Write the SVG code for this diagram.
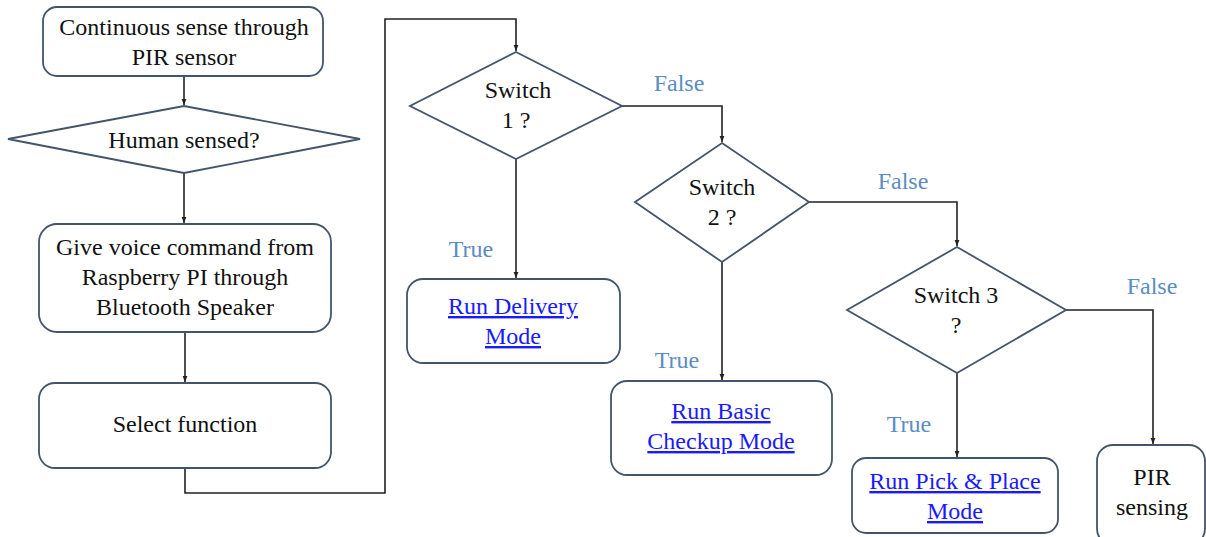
<svg xmlns="http://www.w3.org/2000/svg" width="1206" height="537" viewBox="0 0 1206 537" font-family="Liberation Serif, DejaVu Serif, serif">
  <style>
    .box { fill: #ffffff; stroke: #44546a; stroke-width: 1.8; }
    .dia { fill: #ffffff; stroke: #44546a; stroke-width: 1.8; }
    text { font-family: "Liberation Serif", "DejaVu Serif", serif; }
    .t { font-size: 24px; fill: #111111; text-anchor: middle; }
    .link { fill: #1a1aff; text-decoration: underline; }
    .lbl { font-size: 24px; fill: #5b8cc4; text-anchor: middle; }
    .edge { fill: none; stroke: #222222; stroke-width: 1.6; marker-end: url(#arrow); }
  </style>
  <defs>
    <marker id="arrow" viewBox="0 0 10 10" refX="10" refY="5" markerWidth="6" markerHeight="6" orient="auto" markerUnits="userSpaceOnUse">
      <path d="M0,1 L10,5 L0,9 z" fill="#222222"/>
    </marker>
  </defs>
  <rect width="1206" height="537" fill="#ffffff"/>

  <!-- connectors with their branch labels -->
  <g id="connectors">
    <path class="edge" d="M184,76 L184,105"/>
    <path class="edge" d="M184,173 L184,223"/>
    <path class="edge" d="M185,332 L185,382"/>
    <path class="edge" d="M185,468 L185,493 L385,493 L385,19 L516,19 L516,51"/>
    <path class="edge" d="M622,106 L722,106 L722,142"/>
    <path class="edge" d="M516,159 L516,278"/>
    <path class="edge" d="M809,202 L957,202 L957,246"/>
    <path class="edge" d="M722,262 L722,380"/>
    <path class="edge" d="M1066,310 L1153,310 L1153,444"/>
    <path class="edge" d="M957,373 L957,457"/>
    <text class="lbl" x="679" y="91" font-family="Liberation Serif">False</text>
    <text class="lbl" x="471" y="257" font-family="Liberation Serif">True</text>
    <text class="lbl" x="903" y="189" font-family="Liberation Serif">False</text>
    <text class="lbl" x="677" y="368" font-family="Liberation Serif">True</text>
    <text class="lbl" x="1152" y="294" font-family="Liberation Serif">False</text>
    <text class="lbl" x="909" y="432" font-family="Liberation Serif">True</text>
  </g>

  <g id="sense" font-family="Liberation Serif">
    <rect class="box" x="43" y="7" width="280" height="69" rx="14"/>
    <text class="t" x="184" y="35">Continuous sense through</text>
    <text class="t" x="184" y="65">PIR sensor</text>
  </g>

  <g id="human-sensed" font-family="Liberation Serif">
    <polygon class="dia" points="184,106 360,139 184,173 8,139"/>
    <text class="t" x="184" y="148">Human sensed?</text>
  </g>

  <g id="voice" font-family="Liberation Serif">
    <rect class="box" x="39" y="224" width="292" height="108" rx="18"/>
    <text class="t" x="185" y="255">Give voice command from</text>
    <text class="t" x="185" y="285">Raspberry PI through</text>
    <text class="t" x="185" y="315">Bluetooth Speaker</text>
  </g>

  <g id="select" font-family="Liberation Serif">
    <rect class="box" x="39" y="383" width="292" height="85" rx="16"/>
    <text class="t" x="185" y="432">Select function</text>
  </g>

  <g id="switch1" font-family="Liberation Serif">
    <polygon class="dia" points="516,52 622,106 516,159 410,106"/>
    <text class="t" x="518" y="98">Switch</text>
    <text class="t" x="516" y="128">1 ?</text>
  </g>

  <g id="delivery" font-family="Liberation Serif">
    <rect class="box" x="407" y="279" width="213" height="84" rx="16"/>
    <text class="t link" x="513" y="314">Run Delivery</text>
    <text class="t link" x="513" y="344">Mode</text>
  </g>

  <g id="switch2" font-family="Liberation Serif">
    <polygon class="dia" points="722,143 809,202 722,262 635,202"/>
    <text class="t" x="722" y="195">Switch</text>
    <text class="t" x="722" y="225">2 ?</text>
  </g>

  <g id="checkup" font-family="Liberation Serif">
    <rect class="box" x="611" y="381" width="221" height="94" rx="16"/>
    <text class="t link" x="721" y="419">Run Basic</text>
    <text class="t link" x="721" y="449">Checkup Mode</text>
  </g>

  <g id="switch3" font-family="Liberation Serif">
    <polygon class="dia" points="957,247 1066,310 957,373 847,310"/>
    <text class="t" x="956" y="303">Switch 3</text>
    <text class="t" x="956" y="333">?</text>
  </g>

  <g id="pick-place" font-family="Liberation Serif">
    <rect class="box" x="852" y="458" width="206" height="75" rx="14"/>
    <text class="t link" x="955" y="489">Run Pick &amp; Place</text>
    <text class="t link" x="955" y="519">Mode</text>
  </g>

  <g id="pir-sensing" font-family="Liberation Serif">
    <rect class="box" x="1097" y="445" width="108" height="100" rx="16"/>
    <text class="t" x="1152" y="485">PIR</text>
    <text class="t" x="1152" y="515">sensing</text>
  </g>
</svg>
